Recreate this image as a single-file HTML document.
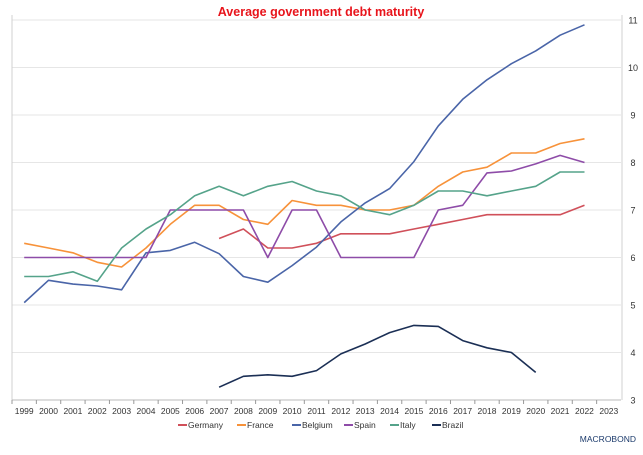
<!DOCTYPE html>
<html><head><meta charset="utf-8"><style>
body{margin:0;background:#fff;font-family:"Liberation Sans",sans-serif}
svg text{font-family:"Liberation Sans",sans-serif}
</style></head><body>
<svg id="c" width="643" height="450">
<text x="321" y="16" text-anchor="middle" font-size="12.5" font-weight="bold" fill="#e8141b">Average government debt maturity</text>
<g id="grid"></g><g id="lines"></g><g id="axes"></g><g id="legend"></g>
<text x="636" y="442" text-anchor="end" font-size="8.5" fill="#1b3a6b">MACROBOND</text>
</svg>
<script>
const years=[1999,2000,2001,2002,2003,2004,2005,2006,2007,2008,2009,2010,2011,2012,2013,2014,2015,2016,2017,2018,2019,2020,2021,2022,2023];
const yTicks=[3,4,5,6,7,8,9,10,11];
const seriesNames=["Germany","France","Belgium","Spain","Italy","Brazil"];
const seriesColors=["#d0505a","#f7923a","#4a65a8","#8e4ca8","#55a38a","#1b2f55"];
const germany=[null,null,null,null,null,null,null,null,6.4,6.6,6.2,6.2,6.3,6.5,6.5,6.5,6.6,6.7,6.8,6.9,6.9,6.9,6.9,7.1];
const france=[6.3,6.2,6.1,5.9,5.8,6.2,6.7,7.1,7.1,6.8,6.7,7.2,7.1,7.1,7.0,7.0,7.1,7.5,7.8,7.9,8.2,8.2,8.4,8.5];
const belgium=[5.05,5.52,5.44,5.4,5.32,6.1,6.15,6.32,6.08,5.6,5.48,5.83,6.22,6.75,7.15,7.45,8.02,8.77,9.33,9.74,10.08,10.35,10.68,10.9];
const spain=[6,6,6,6,6,6,7,7,7,7,6,7,7,6,6,6,6,7,7.1,7.78,7.82,7.97,8.15,8.0];
const italy=[5.6,5.6,5.7,5.5,6.2,6.6,6.9,7.3,7.5,7.3,7.5,7.6,7.4,7.3,7.0,6.9,7.1,7.4,7.4,7.3,7.4,7.5,7.8,7.8];
const brazil=[null,null,null,null,null,null,null,null,3.27,3.5,3.53,3.5,3.62,3.97,4.18,4.42,4.57,4.55,4.25,4.1,4.0,3.58,null,null];
const allSeries=[germany,france,belgium,spain,italy,brazil];
const NS="http://www.w3.org/2000/svg";
const L=12,R=621,T=20,B=400,yMin=3,yMax=11;
const bw=(R-L)/years.length;
const xs=i=>L+bw*(i+0.5);
const ys=v=>B-(v-yMin)/(yMax-yMin)*(B-T);
function mk(t,a,p){const e=document.createElementNS(NS,t);for(const k in a)e.setAttribute(k,a[k]);p.appendChild(e);return e;}
const grid=document.getElementById('grid'),axes=document.getElementById('axes'),lines=document.getElementById('lines'),leg=document.getElementById('legend');
yTicks.forEach(v=>{
 const g=mk('line',{x1:L,x2:R,y1:ys(v),y2:ys(v),stroke:'#e6e6e6','stroke-width':1},grid);
 
 
 const t=mk('text',{x:633,y:ys(v)+3.5,'font-size':9,fill:'#333','text-anchor':'middle'},axes);
 t.textContent=v;
 
 
});
let la=mk('line',{x1:L,x2:L,y1:T-5,y2:B,stroke:'#d0d0d0'},axes);

let ra=mk('line',{x1:R+1,x2:R+1,y1:T-5,y2:B,stroke:'#d0d0d0'},axes);

let xa=mk('line',{x1:L,x2:R,y1:B,y2:B,stroke:'#bbb'},axes);

years.forEach((y,i)=>{
 const tk=mk('line',{x1:L+bw*i,x2:L+bw*i,y1:B,y2:B+4,stroke:'#999'},axes);
 
 
 const t=mk('text',{x:xs(i),y:B+14,'font-size':8.5,fill:'#333','text-anchor':'middle'},axes);
 t.textContent=y;
 
 
});
allSeries.forEach((s,k)=>{
 let d='',pen=false;
 s.forEach((v,i)=>{if(v==null){pen=false;return;}d+=(pen?'L':'M')+xs(i).toFixed(1)+' '+ys(v).toFixed(1)+' ';pen=true;});
 const p=mk('path',{d:d,fill:'none',stroke:seriesColors[k],'stroke-width':1.6,'stroke-linejoin':'round'},lines);
 
 
});
const legX=[178,237,292,344,390,432];
seriesNames.forEach((n,k)=>{
 const g=mk('g',{},leg);
 
 
 mk('line',{x1:legX[k],x2:legX[k]+9,y1:425,y2:425,stroke:seriesColors[k],'stroke-width':2},g);
 const t=mk('text',{x:legX[k]+10,y:428,'font-size':8.5,fill:'#333'},g);
 t.textContent=n;
});
</script>
</body></html>
